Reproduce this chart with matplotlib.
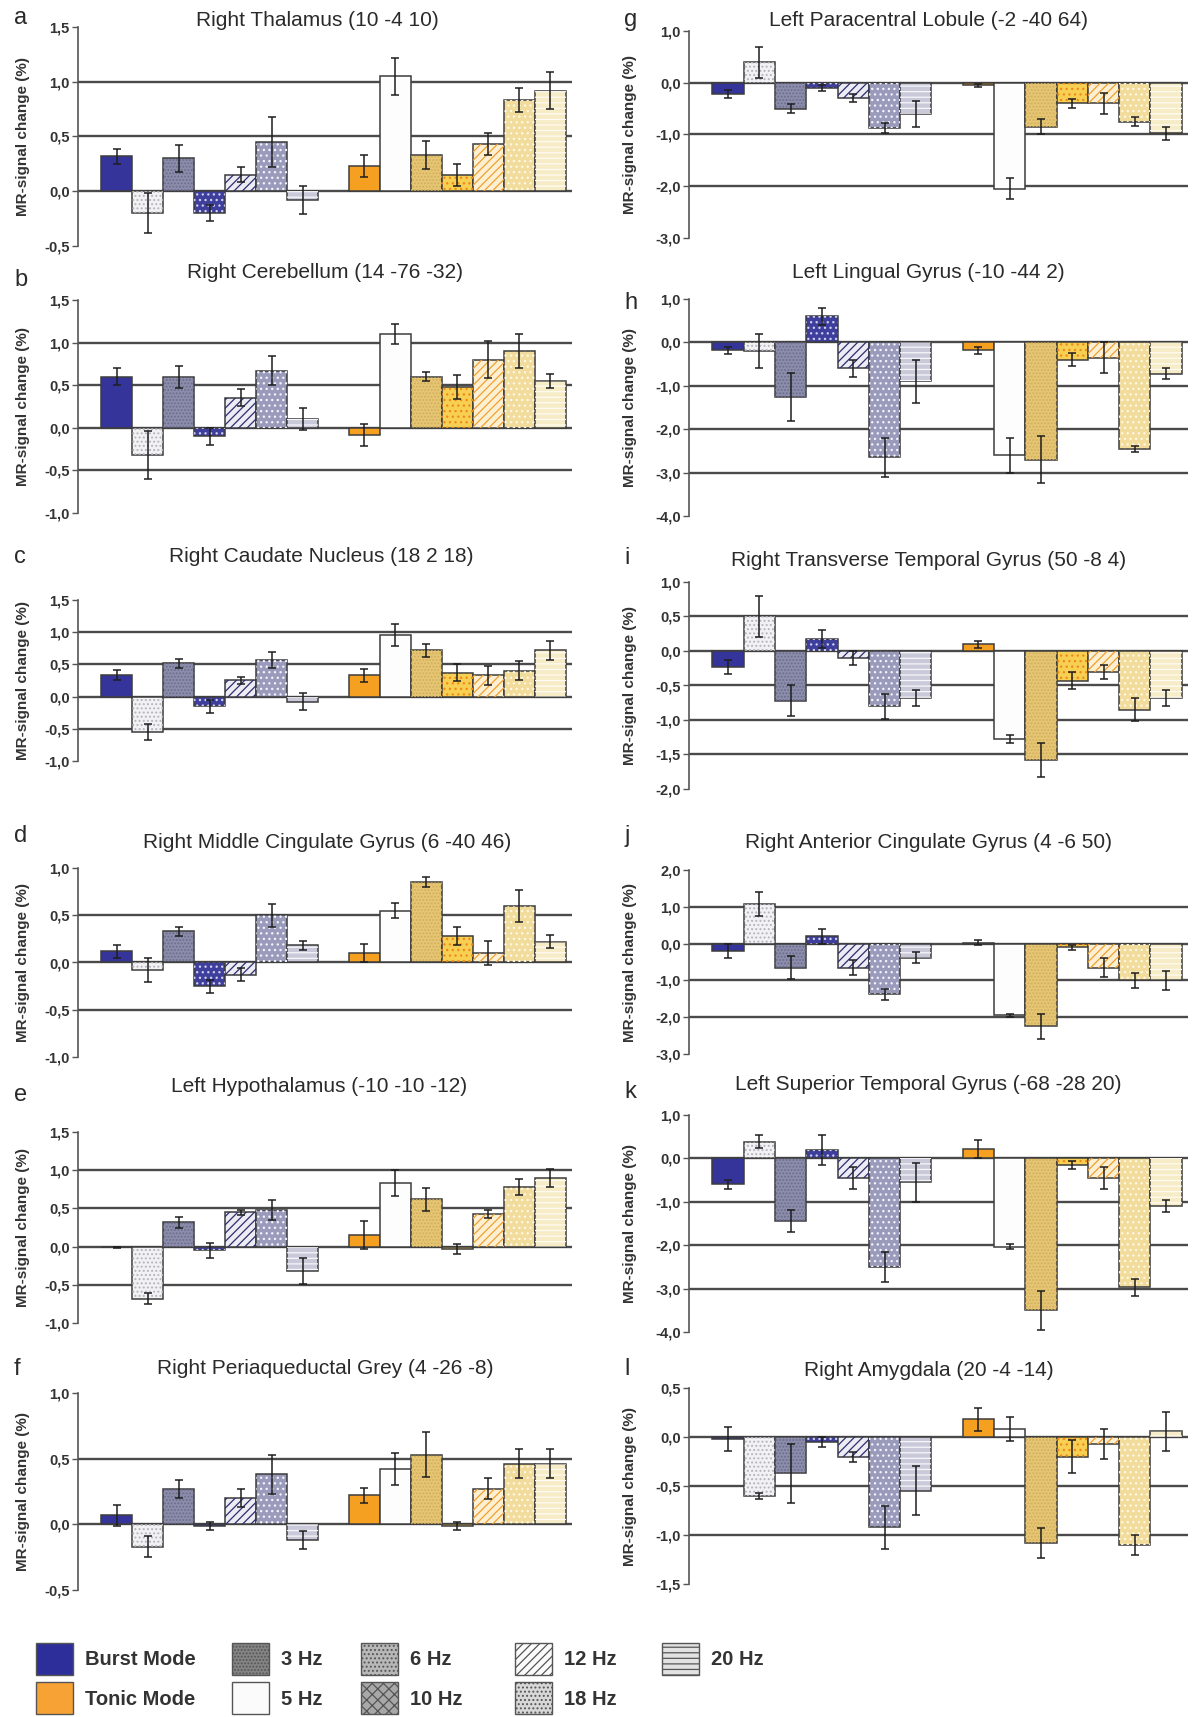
import matplotlib
matplotlib.use('Agg')
import matplotlib.pyplot as plt
from matplotlib.patches import Patch
from matplotlib.ticker import FuncFormatter, FixedLocator
import numpy as np

# ---------------- DATA ----------------
# bar order within each group: mode, 5 Hz, 3 Hz, 10 Hz, 12 Hz, 18 Hz, 20 Hz
bar_conditions = ['Mode', '5 Hz', '3 Hz', '10 Hz', '12 Hz', '18 Hz', '20 Hz']

panel_letters = ['a', 'b', 'c', 'd', 'e', 'f', 'g', 'h', 'i', 'j', 'k', 'l']
panel_titles = [
    'Right Thalamus (10 -4 10)',
    'Right Cerebellum (14 -76 -32)',
    'Right Caudate Nucleus (18 2 18)',
    'Right Middle Cingulate Gyrus (6 -40 46)',
    'Left Hypothalamus (-10 -10 -12)',
    'Right Periaqueductal Grey (4 -26 -8)',
    'Left Paracentral Lobule (-2 -40 64)',
    'Left Lingual Gyrus (-10 -44 2)',
    'Right Transverse Temporal Gyrus (50 -8 4)',
    'Right Anterior Cingulate Gyrus (4 -6 50)',
    'Left Superior Temporal Gyrus (-68 -28 20)',
    'Right Amygdala (20 -4 -14)',
]
y_limits = [(-0.5, 1.5), (-1.0, 1.5), (-1.0, 1.5), (-1.0, 1.0), (-1.0, 1.5), (-0.5, 1.0),
            (-3.0, 1.0), (-4.0, 1.0), (-2.0, 1.0), (-3.0, 2.0), (-4.0, 1.0), (-1.5, 0.5)]
y_steps = [0.5, 0.5, 0.5, 0.5, 0.5, 0.5, 1.0, 1.0, 0.5, 1.0, 1.0, 0.5]

burst_a = [0.32, -0.20, 0.30, -0.20, 0.15, 0.45, -0.08]
burst_a_err = [0.07, 0.18, 0.12, 0.07, 0.07, 0.23, 0.13]
tonic_a = [0.23, 1.05, 0.33, 0.15, 0.43, 0.83, 0.92]
tonic_a_err = [0.10, 0.17, 0.13, 0.10, 0.10, 0.11, 0.17]

burst_b = [0.60, -0.32, 0.60, -0.10, 0.35, 0.67, 0.10]
burst_b_err = [0.10, 0.28, 0.13, 0.10, 0.10, 0.17, 0.13]
tonic_b = [-0.08, 1.10, 0.60, 0.48, 0.80, 0.90, 0.55]
tonic_b_err = [0.13, 0.12, 0.05, 0.14, 0.22, 0.20, 0.08]

burst_c = [0.33, -0.55, 0.52, -0.15, 0.25, 0.57, -0.08]
burst_c_err = [0.08, 0.13, 0.07, 0.10, 0.06, 0.12, 0.13]
tonic_c = [0.33, 0.95, 0.72, 0.37, 0.33, 0.40, 0.72]
tonic_c_err = [0.10, 0.17, 0.10, 0.13, 0.15, 0.15, 0.15]

burst_d = [0.12, -0.08, 0.33, -0.25, -0.13, 0.50, 0.18]
burst_d_err = [0.07, 0.13, 0.05, 0.07, 0.07, 0.12, 0.05]
tonic_d = [0.10, 0.55, 0.85, 0.28, 0.10, 0.60, 0.22]
tonic_d_err = [0.10, 0.08, 0.05, 0.10, 0.13, 0.17, 0.07]

burst_e = [-0.01, -0.68, 0.32, -0.05, 0.45, 0.48, -0.32]
burst_e_err = [0.01, 0.07, 0.07, 0.10, 0.03, 0.13, 0.17]
tonic_e = [0.15, 0.83, 0.62, -0.03, 0.43, 0.78, 0.90]
tonic_e_err = [0.18, 0.17, 0.15, 0.07, 0.05, 0.10, 0.12]

burst_f = [0.07, -0.17, 0.27, -0.01, 0.20, 0.38, -0.12]
burst_f_err = [0.08, 0.08, 0.07, 0.03, 0.07, 0.15, 0.07]
tonic_f = [0.22, 0.42, 0.53, -0.01, 0.27, 0.46, 0.46]
tonic_f_err = [0.06, 0.12, 0.17, 0.03, 0.08, 0.11, 0.11]

burst_g = [-0.22, 0.40, -0.50, -0.10, -0.30, -0.88, -0.60]
burst_g_err = [0.08, 0.30, 0.08, 0.05, 0.08, 0.10, 0.25]
tonic_g = [-0.05, -2.05, -0.85, -0.40, -0.40, -0.75, -0.98]
tonic_g_err = [0.03, 0.20, 0.15, 0.08, 0.20, 0.08, 0.12]

burst_h = [-0.18, -0.20, -1.25, 0.60, -0.60, -2.65, -0.90]
burst_h_err = [0.08, 0.40, 0.55, 0.20, 0.20, 0.45, 0.50]
tonic_h = [-0.18, -2.60, -2.70, -0.40, -0.35, -2.45, -0.72]
tonic_h_err = [0.08, 0.40, 0.55, 0.15, 0.35, 0.07, 0.12]

burst_i = [-0.23, 0.50, -0.72, 0.17, -0.10, -0.80, -0.68]
burst_i_err = [0.10, 0.30, 0.22, 0.13, 0.10, 0.18, 0.12]
tonic_i = [0.10, -1.28, -1.58, -0.43, -0.30, -0.85, -0.68]
tonic_i_err = [0.05, 0.06, 0.25, 0.12, 0.10, 0.17, 0.12]

burst_j = [-0.20, 1.08, -0.65, 0.20, -0.65, -1.38, -0.38]
burst_j_err = [0.20, 0.33, 0.30, 0.20, 0.20, 0.15, 0.15]
tonic_j = [0.02, -1.95, -2.25, -0.10, -0.65, -1.00, -1.00]
tonic_j_err = [0.07, 0.05, 0.35, 0.07, 0.25, 0.20, 0.25]

burst_k = [-0.60, 0.38, -1.45, 0.20, -0.45, -2.50, -0.55]
burst_k_err = [0.10, 0.15, 0.25, 0.35, 0.25, 0.35, 0.45]
tonic_k = [0.22, -2.03, -3.50, -0.15, -0.45, -2.97, -1.10]
tonic_k_err = [0.20, 0.05, 0.45, 0.10, 0.25, 0.20, 0.13]

burst_l = [-0.02, -0.60, -0.37, -0.05, -0.20, -0.92, -0.55]
burst_l_err = [0.12, 0.03, 0.30, 0.05, 0.05, 0.22, 0.25]
tonic_l = [0.18, 0.08, -1.08, -0.20, -0.07, -1.10, 0.06]
tonic_l_err = [0.12, 0.12, 0.15, 0.17, 0.15, 0.10, 0.20]

burst_values = [burst_a, burst_b, burst_c, burst_d, burst_e, burst_f,
                burst_g, burst_h, burst_i, burst_j, burst_k, burst_l]
burst_errors = [burst_a_err, burst_b_err, burst_c_err, burst_d_err, burst_e_err, burst_f_err,
                burst_g_err, burst_h_err, burst_i_err, burst_j_err, burst_k_err, burst_l_err]
tonic_values = [tonic_a, tonic_b, tonic_c, tonic_d, tonic_e, tonic_f,
                tonic_g, tonic_h, tonic_i, tonic_j, tonic_k, tonic_l]
tonic_errors = [tonic_a_err, tonic_b_err, tonic_c_err, tonic_d_err, tonic_e_err, tonic_f_err,
                tonic_g_err, tonic_h_err, tonic_i_err, tonic_j_err, tonic_k_err, tonic_l_err]

legend_labels = ['Burst Mode', 'Tonic Mode', '3 Hz', '5 Hz', '6 Hz', '10 Hz', '12 Hz', '18 Hz', '20 Hz']

# ---------------- STYLE ----------------
burst_faces = ['#34349a', '#f2f2f4', '#8c8cab', '#3e3e9c', '#ececf4', '#9a9abb', '#c9c9d9']
burst_hatches = [None, '....', '.....', '...', '////', '...', '---']
burst_hcols = [None, '#b4b4bc', '#6c6c8e', '#d0d0f0', '#2e2e6e', '#f4f4ff', '#f6f6fb']
tonic_faces = ['#f5a020', '#fdfdfd', '#e6c674', '#f7cf52', '#fdf0d2', '#f1dc9c', '#f6ecc8']
tonic_hatches = [None, None, '.....', '...', '////', '...', '---']
tonic_hcols = [None, None, '#d2ae5a', '#ee8a1a', '#f0a030', '#fff8e4', '#fffbf2']

legend_faces = ['#2e2e9a', '#f7a234', '#848484', '#fbfbfb', '#b8b8b8', '#a8a8a8', '#fbfbfb', '#d8d8d8', '#e2e2e2']
legend_hatches = [None, None, '.....', None, '....', 'xxx', '////', '....', '---']

W, H = 1195, 1717
plt.rcParams['font.family'] = ['Liberation Sans', 'DejaVu Sans']
plt.rcParams['hatch.linewidth'] = 0.9
fig = plt.figure(figsize=(W / 100, H / 100), dpi=100)

col_x = [(78, 572), (689, 1188)]
panel_y = [(27, 246), (300, 513), (600, 761), (868, 1057), (1132, 1323), (1393, 1590),
           (31, 238), (299, 516), (582, 789), (870, 1054), (1115, 1332), (1388, 1584)]
title_y = [20, 273, 557, 842, 1087, 1368, 20, 273, 560, 842, 1085, 1370]
title_dx = [-8, 0, -4, 2, -6, 0, -10, -10, -10, -10, -10, -10]
letter_y = [18, 280, 557, 836, 1095, 1369, 20, 303, 558, 836, 1092, 1369]
letter_x = [14, 624]
ylabel_x = [23, 630]

burst_x = np.arange(7)
tonic_x = np.arange(8, 15)


def fmt(v, pos):
    s = f'{v:.1f}'.replace('.', ',')
    if s == '-0,0':
        s = '0,0'
    return s


def draw_group(ax, xs, vals, errs, faces, hatches, hcols):
    ax.bar(xs, vals, width=1.0, color=faces, edgecolor='#3c3c3c', linewidth=1.1, zorder=3)
    over = ax.bar(xs, vals, width=1.0, color='none', edgecolor='none', linewidth=0, zorder=4)
    for p, h, hc in zip(over.patches, hatches, hcols):
        if h:
            p.set_hatch(h)
            p.set_edgecolor(hc)
    ax.errorbar(xs, vals, yerr=errs, fmt='none', ecolor='#1e1e1e', elinewidth=1.1,
                capsize=3, capthick=1.1, zorder=6)


for i in range(12):
    col = 0 if i < 6 else 1
    x0, x1 = col_x[col]
    yt, yb = panel_y[i]
    ax = fig.add_axes([x0 / W, 1 - yb / H, (x1 - x0) / W, (yb - yt) / H])
    lo, hi = y_limits[i]
    ax.set_ylim(lo, hi)
    ax.set_xlim(-1.25, 14.7)
    ticks = np.round(np.arange(lo, hi + 1e-9, y_steps[i]), 2)
    ax.yaxis.set_major_locator(FixedLocator(ticks))
    ax.yaxis.set_major_formatter(FuncFormatter(fmt))
    for t in ticks[1:-1]:
        ax.axhline(t, color='#4a4a4a', lw=1.7, zorder=1)
    for s in ['top', 'right', 'bottom']:
        ax.spines[s].set_visible(False)
    ax.spines['left'].set_color('#555555')
    ax.spines['left'].set_linewidth(1.2)
    ax.set_xticks([])
    ax.tick_params(axis='y', length=4, width=1.0, color='#555555', pad=2,
                   labelsize=10.5, labelcolor='#333333')
    for lab in ax.get_yticklabels():
        lab.set_fontweight('bold')
    ax.set_facecolor('none')
    draw_group(ax, burst_x, burst_values[i], burst_errors[i], burst_faces, burst_hatches, burst_hcols)
    draw_group(ax, tonic_x, tonic_values[i], tonic_errors[i], tonic_faces, tonic_hatches, tonic_hcols)

    fig.text(((x0 + x1) / 2 + title_dx[i]) / W, 1 - title_y[i] / H, panel_titles[i],
             ha='center', va='center', fontsize=15, color='#2a2a2a')
    fig.text(letter_x[col] / W, 1 - letter_y[i] / H, panel_letters[i], ha='left', va='center',
             fontsize=17, color='#2a2a2a')
    fig.text(ylabel_x[col] / W, 1 - (yt + yb) / 2 / H, 'MR-signal change (%)', rotation=90,
             ha='center', va='center', fontsize=11, fontweight='bold', color='#333333')

# legend: five columns placed like the reference
handles = [Patch(facecolor=f, edgecolor='#555555', linewidth=1.0, hatch=h)
           for f, h in zip(legend_faces, legend_hatches)]
legend_cols = [[0, 1], [2, 3], [4, 5], [6, 7], [8]]
legend_col_x = [36, 232, 361, 515, 662]
for idxs, lx in zip(legend_cols, legend_col_x):
    leg = fig.legend([handles[k] for k in idxs], [legend_labels[k] for k in idxs],
                     loc='upper left', bbox_to_anchor=(lx / W, 1 - 1643 / H),
                     ncol=1, frameon=False, fontsize=14.5, handlelength=1.85, handleheight=2.05,
                     handletextpad=0.6, labelspacing=0.38, borderpad=0, borderaxespad=0)
    for t in leg.get_texts():
        t.set_fontweight('bold')
        t.set_color('#333333')

fig.savefig('out.png', dpi=100)
